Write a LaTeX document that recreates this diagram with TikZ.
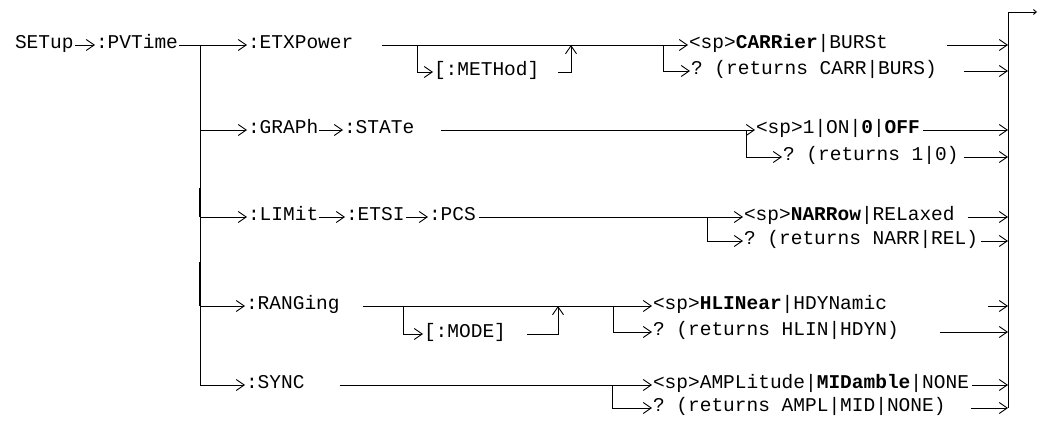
\documentclass[tikz,border=0pt]{standalone}
\usepackage{fontspec}
\setmonofont{Liberation Mono}
\usetikzlibrary{arrows.meta,positioning}

\begin{document}
\begin{tikzpicture}[x=1pt, y=-1pt,
  cmd/.style={anchor=west, inner sep=0pt, outer xsep=1pt,
              font=\ttfamily\fontsize{19.5}{22}\selectfont,
              text height=7pt, text depth=0pt},
  ln/.style={line width=0.9pt},
  arr/.style={-{Straight Barb[length=8pt,width=11pt]}, line width=0.9pt},
  tinyarr/.style={-{Straight Barb[length=3pt,width=5pt]}, line width=0.9pt}
]
  \useasboundingbox (0,0) rectangle (1038,422);

  % command path
  \node[cmd] (setup)  at (14,45) {SETup};
  \node[cmd] (pvtime) at (95,45) {:PVTime};

  \node[cmd] (etx)    at (247,45)  {:ETXPower};
  \node[cmd] (method) at (433,72)  {[:METHod]};
  \node[cmd] (carr)   at (688,45)  {<sp>\textbf{CARRier}|BURSt};
  \node[cmd] (carrq)  at (690,71)  {? (returns CARR|BURS)};

  \node[cmd] (graph)  at (247,130) {:GRAPh};
  \node[cmd] (state)  at (343,130) {:STATe};
  \node[cmd] (off)    at (755,130) {<sp>1|ON|\textbf{0}|\textbf{OFF}};
  \node[cmd] (offq)   at (782,157) {? (returns 1|0)};

  \node[cmd] (limit)  at (247,217) {:LIMit};
  \node[cmd] (etsi)   at (345,217) {:ETSI};
  \node[cmd] (pcs)    at (428,217) {:PCS};
  \node[cmd] (narr)   at (743,217) {<sp>\textbf{NARRow}|RELaxed};
  \node[cmd] (narrq)  at (743,241) {? (returns NARR|REL)};

  \node[cmd] (ranging) at (245,306) {:RANGing};
  \node[cmd] (mode)    at (423,334) {[:MODE]};
  \node[cmd] (hlin)    at (652,306) {<sp>\textbf{HLINear}|HDYNamic};
  \node[cmd] (hlinq)   at (652,332) {? (returns HLIN|HDYN)};

  \node[cmd] (sync)   at (245,385) {:SYNC};
  \node[cmd] (ampl)   at (652,385) {<sp>AMPLitude|\textbf{MIDamble}|NONE};
  \node[cmd] (amplq)  at (652,408) {? (returns AMPL|MID|NONE)};

  \coordinate (trunktop) at (200,45);
  \coordinate (trunkbot) at (200,385);
  \coordinate (m1) at (417,45);  \coordinate (m2) at (571,45);
  \coordinate (s1) at (663,45);
  \coordinate (s2) at (746,130);
  \coordinate (s3) at (707,217);
  \coordinate (d1) at (403,306); \coordinate (d2) at (558,306);
  \coordinate (s4) at (613,306);
  \coordinate (s5) at (612,385);
  \coordinate (brtop) at (1008,12);
  \coordinate (brbot) at (1008,408);
  \coordinate (out) at (1037,12);

  % trunk
  \draw[ln] (trunktop) -- (trunkbot);
  \draw[line width=1.8pt] (200,188) -- (200,217);
  \draw[line width=1.8pt] (200,262) -- (200,306);

  \draw[arr] (setup.east) -- (pvtime.west);
  \draw[arr] (pvtime.east) -- (etx.west);
  \draw[arr] (trunktop |- graph) -- (graph.west);
  \draw[arr] (trunktop |- limit) -- (limit.west);
  \draw[arr] (trunktop |- ranging) -- (ranging.west);
  \draw[arr] (trunkbot) -- (sync.west);

  % ETXPower
  \draw[arr] ([xshift=28pt]etx.east) -- (carr.west);
  \draw[arr] (m1) |- (method.west);
  \draw[arr] ([xshift=18pt]method.east) -| (m2);
  \draw[arr] (s1) |- (carrq.west);

  % GRAPh
  \draw[arr] (graph.east) -- (state.west);
  \draw[arr] ([xshift=26pt]state.east) -- (off.west);
  \draw[arr] (s2) |- (offq.west);

  % LIMit
  \draw[arr] (limit.east) -- (etsi.west);
  \draw[arr] (etsi.east) -- (pcs.west);
  \draw[arr] ([xshift=2pt]pcs.east) -- (narr.west);
  \draw[arr] (s3) |- (narrq.west);

  % RANGing
  \draw[arr] ([xshift=22pt]ranging.east) -- (hlin.west);
  \draw[arr] (d1) |- (mode.west);
  \draw[arr] ([xshift=20pt]mode.east) -| (d2);
  \draw[arr] (s4) |- (hlinq.west);

  % SYNC
  \draw[arr] ([xshift=34pt]sync.east) -- (ampl.west);
  \draw[arr] (s5) |- (amplq.west);

  % outputs
  \draw[ln] (brbot) -- (brtop);
  \draw[tinyarr] (brtop) -- (out);
  \draw[arr] ([xshift=58pt]carr.east) -- (carr -| brtop);
  \draw[arr] ([xshift=26pt]carrq.east) -- (carrq -| brtop);
  \draw[arr] ([xshift=2pt]off.east) -- (off -| brtop);
  \draw[arr] ([xshift=4pt]offq.east) -- (offq -| brtop);
  \draw[arr] ([xshift=12pt]narr.east) -- (narr -| brtop);
  \draw[arr] ([xshift=2pt]narrq.east) -- (narrq -| brtop);
  \draw[arr] ([xshift=100pt]hlin.east) -- (hlin -| brtop);
  \draw[arr] ([xshift=40pt]hlinq.east) -- (hlinq -| brtop);
  \draw[arr] ([xshift=2pt]ampl.east) -- (ampl -| brtop);
  \draw[arr] ([xshift=24pt]amplq.east) -- (amplq -| brtop);
\end{tikzpicture}
\end{document}
